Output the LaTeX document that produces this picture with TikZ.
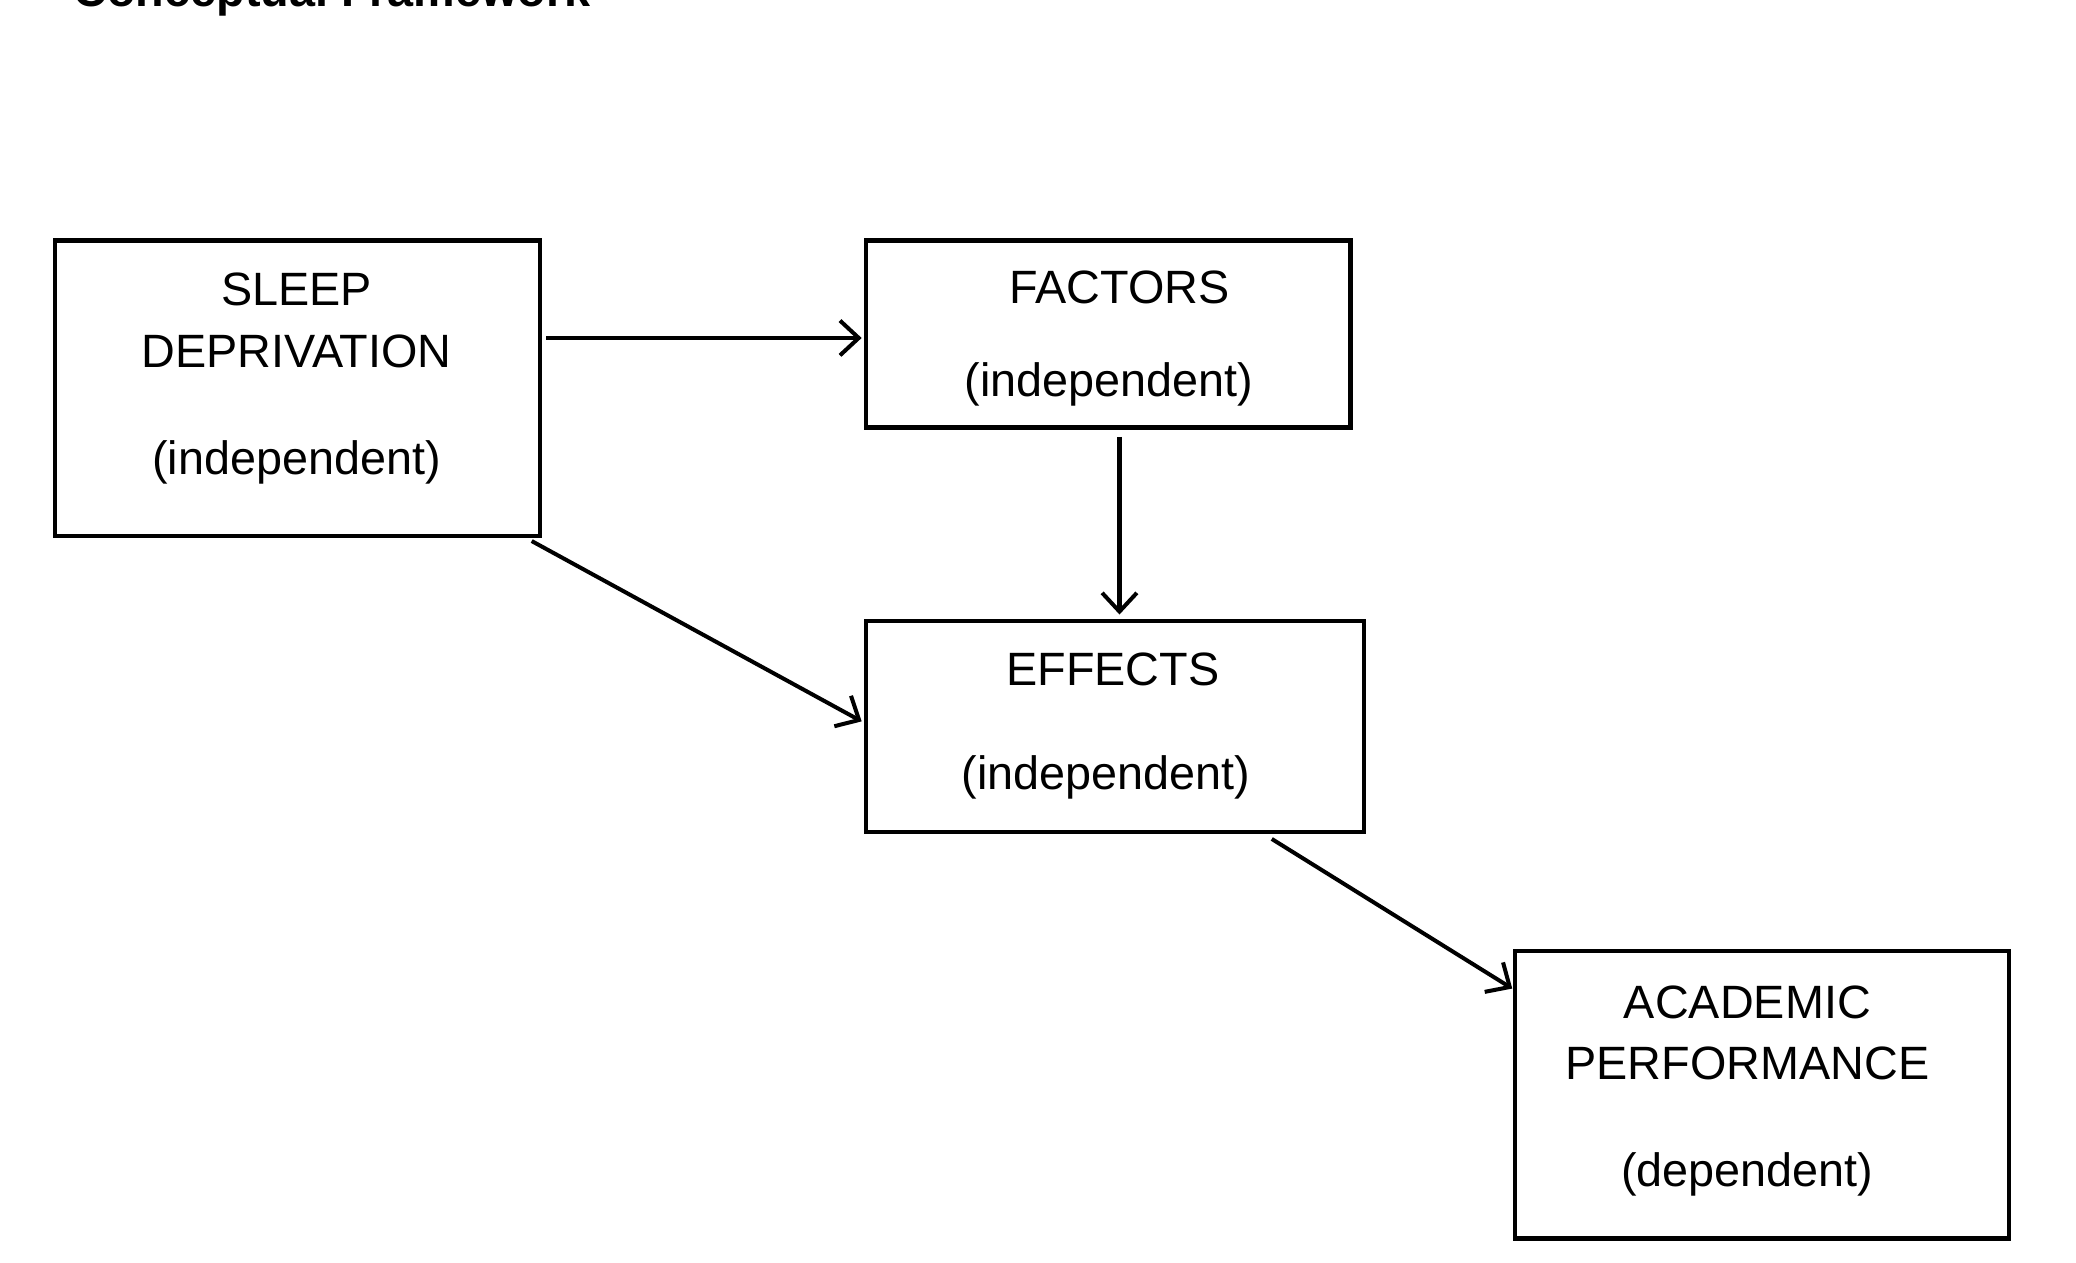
\documentclass[tikz,border=0pt]{standalone}
\usepackage{fontspec}
\setmainfont{Liberation Sans}
\usetikzlibrary{arrows.meta}
\begin{document}
\begin{tikzpicture}[x=0.5pt,y=-0.5pt,
 box/.style={draw,line width=1.6pt,inner sep=0pt},
 txt/.style={font=\fontsize{17.5}{20}\selectfont,align=center},
 arr/.style={line width=1.5pt,-{Straight Barb[length=7pt,width=13pt,line width=1.5pt]}}]
\useasboundingbox (0,0) rectangle (1554,945);
\node[anchor=base west,font=\bfseries\fontsize{17.5}{20}\selectfont] (title) at (48,5) {Conceptual Framework};
\draw[box] (41,180) rectangle (404,401); \coordinate (sleep) at (222,290);
\draw[box] (648,180) rectangle (1011,320);
\draw[box] (648,465) rectangle (1021,623);
\draw[box] (1134,712) rectangle (1504,927);
\node[txt] (s1) at (222,240) {SLEEP\\[3pt]DEPRIVATION};
\node[txt] (s2) at (222,346) {(independent)};
\node[txt] (f1) at (838,215) {FACTORS};
\node[txt] (f2) at (830,288) {(independent)};
\node[txt] (e1) at (833,501) {EFFECTS};
\node[txt] (e2) at (828,582) {(independent)};
\node[txt] (a1) at (1308,773) {ACADEMIC\\[3pt]PERFORMANCE};
\node[txt] (a2) at (1308,879) {(dependent)};
\coordinate (sE) at (409,253); \coordinate (fW) at (645,253);
\coordinate (fS) at (838,327); \coordinate (eN) at (838,460);
\coordinate (sSE) at (398,405); \coordinate (eW) at (645,540);
\coordinate (eSE) at (952,628); \coordinate (aNW) at (1132,740);
\draw[arr] (sE) -- (fW);
\draw[arr] (fS) -- (eN);
\draw[arr] (sSE) -- (eW);
\draw[arr] (eSE) -- (aNW);
\end{tikzpicture}
\end{document}
